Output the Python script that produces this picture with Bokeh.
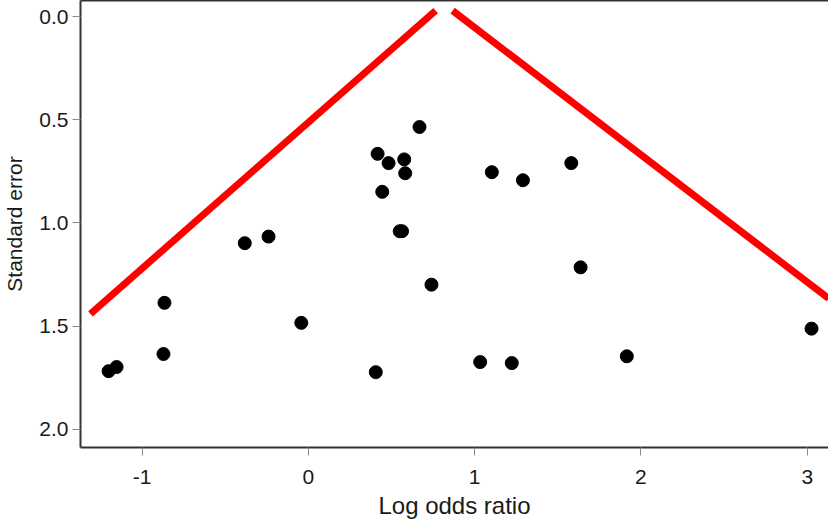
from bokeh.plotting import figure
from bokeh.models import Range1d, LinearAxis, FixedTicker
from bokeh.embed import file_html
from bokeh.resources import INLINE

# Study estimates
log_odds_ratio = [-1.202, -1.154, -0.872, -0.866, -0.383, -0.240, -0.043, 0.405,
                  0.416, 0.444, 0.482, 0.549, 0.563, 0.576, 0.582, 0.668, 0.740,
                  1.033, 1.103, 1.223, 1.290, 1.581, 1.637, 1.915, 3.026]
standard_error = [1.718, 1.698, 1.635, 1.387, 1.098, 1.066, 1.484, 1.723,
                  0.665, 0.849, 0.710, 1.040, 1.040, 0.692, 0.759, 0.535, 1.299,
                  1.674, 0.754, 1.679, 0.793, 0.710, 1.215, 1.646, 1.512]

# Hand-drawn red funnel lines (left arm and right arm)
left_arm_x = [-1.311, 0.765]
left_arm_y = [1.440, -0.029]
right_arm_x = [0.867, 3.129]
right_arm_y = [-0.029, 1.366]

x_ticks = [-1, 0, 1, 2, 3]
x_tick_labels = {-1: "-1", 0: "0", 1: "1", 2: "2", 3: "3"}
y_ticks = [0.0, 0.5, 1.0, 1.5, 2.0]
y_tick_labels = {0.0: "0.0", 0.5: "0.5", 1.0: "1.0", 1.5: "1.5", 2.0: "2.0"}

FONT = "Liberation Sans"
TXT = "#1a1a1a"
AX = "#333333"

p = figure(width=828, height=521, output_backend="svg", toolbar_location=None,
           x_range=Range1d(-1.371, 3.128), y_range=Range1d(2.088, -0.078),
           min_border_left=0, min_border_right=0, min_border_top=0, min_border_bottom=0)

p.background_fill_color = "white"
p.border_fill_color = "white"
p.outline_line_color = None
p.grid.visible = False

# Axes styling
for ax in (p.xaxis[0], p.yaxis[0]):
    ax.axis_line_color = AX
    ax.axis_line_width = 2
    ax.major_tick_line_color = "#888888"
    ax.major_tick_line_width = 1
    ax.major_tick_in = 0
    ax.major_tick_out = 8
    ax.minor_tick_line_color = None
    ax.major_label_text_font = FONT
    ax.major_label_text_font_size = "21px"
    ax.major_label_text_color = TXT
    ax.axis_label_text_font = FONT
    ax.axis_label_text_font_style = "normal"
    ax.axis_label_text_color = TXT

p.xaxis[0].ticker = FixedTicker(ticks=x_ticks)
p.xaxis[0].major_label_overrides = x_tick_labels
p.xaxis[0].axis_label = "Log odds ratio"
p.xaxis[0].axis_label_text_font_size = "24px"
p.xaxis[0].major_label_standoff = 14
p.xaxis[0].axis_label_standoff = 5

p.yaxis[0].ticker = FixedTicker(ticks=y_ticks)
p.yaxis[0].major_label_overrides = y_tick_labels
p.yaxis[0].axis_label = "Standard error"
p.yaxis[0].axis_label_text_font_size = "21px"
p.yaxis[0].major_label_standoff = 4
p.yaxis[0].axis_label_standoff = 10

# Top frame line
top = LinearAxis(ticker=FixedTicker(ticks=[]), major_label_text_font_size="0px",
                 major_tick_out=0, major_tick_in=0, major_label_standoff=0,
                 axis_line_color=AX, axis_line_width=2, minor_tick_line_color=None)
p.add_layout(top, "above")

p.line(left_arm_x, left_arm_y, line_color="#ff0000", line_width=7, line_cap="butt")
p.line(right_arm_x, right_arm_y, line_color="#ff0000", line_width=7, line_cap="butt")

p.scatter(log_odds_ratio, standard_error, size=13, fill_color="black", line_color="black")

open("out.html", "w").write(file_html(p, INLINE))
